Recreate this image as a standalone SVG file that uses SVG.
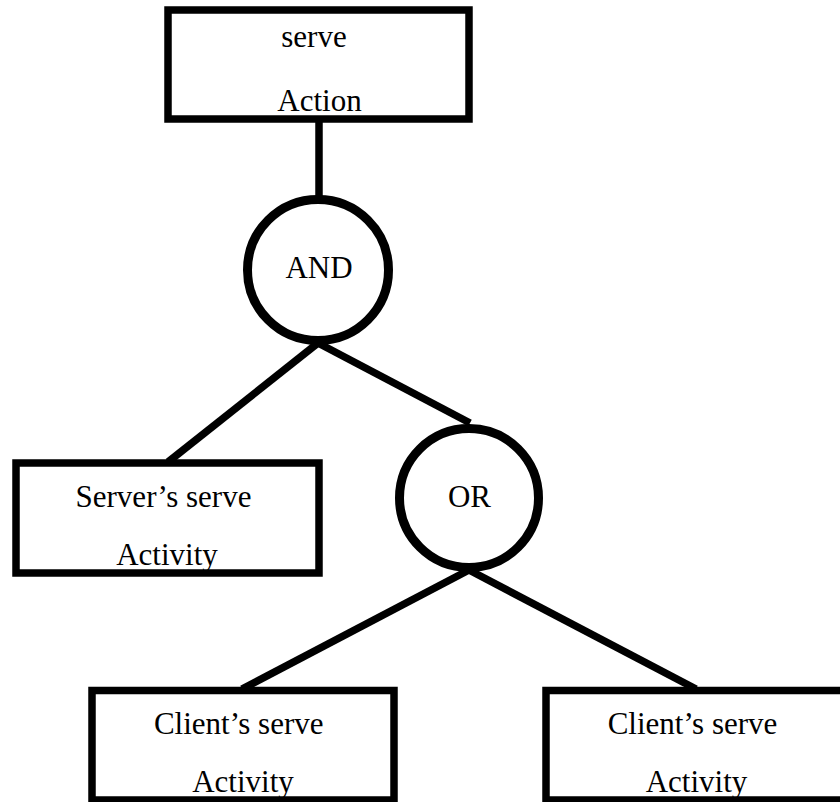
<svg xmlns="http://www.w3.org/2000/svg" width="840" height="802" viewBox="0 0 840 802">
<style>
.box{fill:#fff;stroke:#000;stroke-width:7.5}
.gate{fill:#fff;stroke:#000;stroke-width:9}
.conn{stroke:#000;stroke-width:7.5;fill:none}
text{font-family:"Liberation Serif","Times New Roman",serif;font-size:31px;fill:#000;text-anchor:middle}
</style>
<rect width="840" height="802" fill="#fff"/>
<g id="connectors">
<line class="conn" x1="319" y1="120" x2="319" y2="197"/>
<line class="conn" x1="318" y1="343" x2="168" y2="462"/>
<line class="conn" x1="318" y1="343" x2="470" y2="423"/>
<line class="conn" x1="469" y1="570" x2="242" y2="689"/>
<line class="conn" x1="469" y1="570" x2="696" y2="689"/>
</g>
<g id="action">
<rect class="box" x="168" y="10" width="301" height="109"/>
<text x="314" y="47">serve</text>
<text x="319.5" y="111">Action</text>
</g>
<g id="and">
<circle class="gate" cx="318" cy="270" r="70.5"/>
<text x="319" y="278">AND</text>
</g>
<g id="server">
<rect class="box" x="16" y="463" width="303" height="110"/>
<text x="163.5" y="507">Server’s serve</text>
<text x="167" y="565">Activity</text>
</g>
<g id="or">
<circle class="gate" cx="469" cy="498" r="69.5"/>
<text x="469.5" y="507">OR</text>
</g>
<g id="client1">
<rect class="box" x="92" y="690.5" width="302" height="109.5"/>
<text x="238.7" y="734">Client’s serve</text>
<text x="243" y="792">Activity</text>
</g>
<g id="client2">
<rect class="box" x="546" y="690.5" width="302" height="109.5"/>
<text x="692.5" y="734">Client’s serve</text>
<text x="696.5" y="792">Activity</text>
</g>
</svg>
